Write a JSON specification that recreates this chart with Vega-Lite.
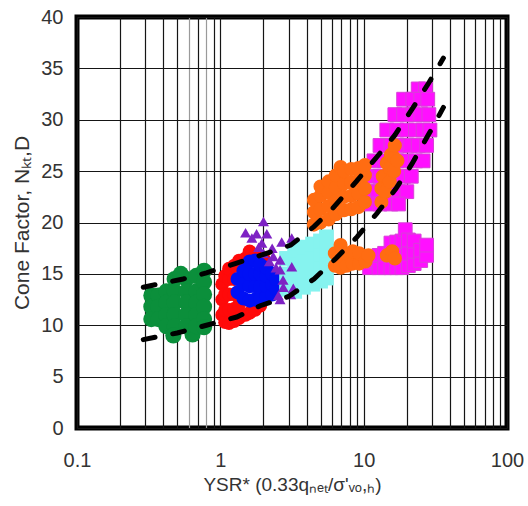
{
  "$schema": "https://vega.github.io/schema/vega-lite/v6.json",
  "width": 430,
  "height": 411,
  "autosize": {"type": "none"},
  "padding": {"left": 77, "top": 17, "right": 21, "bottom": 78},
  "background": "white",
  "config": {
    "view": {"stroke": "black", "strokeWidth": 5},
    "font": "Liberation Sans"
  },
  "datasets": {
    "pts": [
      {"g":"green","x":0.33,"y":12.9},{"g":"green","x":0.33,"y":11.8},{"g":"green","x":0.33,"y":10.6},
      {"g":"green","x":0.37,"y":12.9},{"g":"green","x":0.37,"y":11.8},{"g":"green","x":0.37,"y":10.6},
      {"g":"green","x":0.42,"y":13.3},{"g":"green","x":0.42,"y":12.2},{"g":"green","x":0.42,"y":11.0},{"g":"green","x":0.42,"y":9.9},
      {"g":"green","x":0.48,"y":14.5},{"g":"green","x":0.48,"y":13.3},{"g":"green","x":0.48,"y":12.2},{"g":"green","x":0.48,"y":11.0},{"g":"green","x":0.48,"y":9.9},{"g":"green","x":0.47,"y":9.0},
      {"g":"green","x":0.58,"y":14.5},{"g":"green","x":0.58,"y":13.3},{"g":"green","x":0.58,"y":12.2},{"g":"green","x":0.58,"y":11.0},{"g":"green","x":0.58,"y":9.9},{"g":"green","x":0.64,"y":9.1},
      {"g":"green","x":0.68,"y":14.8},{"g":"green","x":0.68,"y":13.3},{"g":"green","x":0.68,"y":12.2},{"g":"green","x":0.68,"y":11.0},{"g":"green","x":0.68,"y":9.9},
      {"g":"green","x":0.77,"y":15.3},{"g":"green","x":0.77,"y":14.2},{"g":"green","x":0.77,"y":13.0},{"g":"green","x":0.77,"y":11.8},{"g":"green","x":0.77,"y":10.6},{"g":"green","x":0.77,"y":9.8},{"g":"green","x":0.53,"y":15.0},

      {"g":"red","x":1.03,"y":11.0},{"g":"red","x":1.03,"y":12.5},{"g":"red","x":1.03,"y":14.0},
      {"g":"red","x":1.08,"y":10.3},{"g":"red","x":1.08,"y":11.5},{"g":"red","x":1.08,"y":13.0},{"g":"red","x":1.08,"y":14.8},
      {"g":"red","x":1.15,"y":10.2},{"g":"red","x":1.15,"y":11.5},{"g":"red","x":1.15,"y":13.0},{"g":"red","x":1.15,"y":14.5},{"g":"red","x":1.15,"y":15.5},
      {"g":"red","x":1.25,"y":10.4},{"g":"red","x":1.25,"y":11.6},{"g":"red","x":1.25,"y":13.0},{"g":"red","x":1.25,"y":14.5},{"g":"red","x":1.25,"y":15.8},
      {"g":"red","x":1.35,"y":10.7},{"g":"red","x":1.35,"y":12.0},{"g":"red","x":1.35,"y":16.3},
      {"g":"red","x":1.5,"y":11.0},{"g":"red","x":1.5,"y":16.5},{"g":"red","x":1.6,"y":11.2},{"g":"red","x":1.6,"y":17.2},
      {"g":"red","x":1.75,"y":11.5},{"g":"red","x":1.75,"y":16.8},{"g":"red","x":1.9,"y":11.9},{"g":"red","x":2.0,"y":16.5},

      {"g":"blue","x":1.32,"y":13.2},{"g":"blue","x":1.32,"y":14.5},
      {"g":"blue","x":1.45,"y":12.6},{"g":"blue","x":1.45,"y":14.0},{"g":"blue","x":1.45,"y":15.3},
      {"g":"blue","x":1.6,"y":12.4},{"g":"blue","x":1.6,"y":13.8},{"g":"blue","x":1.6,"y":15.0},{"g":"blue","x":1.6,"y":16.2},
      {"g":"blue","x":1.75,"y":12.5},{"g":"blue","x":1.75,"y":13.8},{"g":"blue","x":1.75,"y":15.0},{"g":"blue","x":1.75,"y":16.3},
      {"g":"blue","x":1.9,"y":12.6},{"g":"blue","x":1.9,"y":13.8},{"g":"blue","x":1.9,"y":15.0},{"g":"blue","x":1.9,"y":15.9},
      {"g":"blue","x":2.1,"y":12.8},{"g":"blue","x":2.1,"y":13.8},{"g":"blue","x":2.1,"y":14.8},{"g":"blue","x":2.1,"y":15.6},
      {"g":"blue","x":2.3,"y":13.0},{"g":"blue","x":2.3,"y":14.0},{"g":"blue","x":2.3,"y":15.0},
      {"g":"blue","x":2.45,"y":13.5},{"g":"blue","x":2.45,"y":14.5},

      {"g":"cyan","x":2.9,"y":13.5},{"g":"cyan","x":2.9,"y":15.0},{"g":"cyan","x":2.9,"y":16.5},
      {"g":"cyan","x":3.3,"y":13.3},{"g":"cyan","x":3.3,"y":14.7},{"g":"cyan","x":3.3,"y":16.1},{"g":"cyan","x":3.3,"y":17.3},
      {"g":"cyan","x":3.8,"y":13.7},{"g":"cyan","x":3.8,"y":15.0},{"g":"cyan","x":3.8,"y":16.3},{"g":"cyan","x":3.8,"y":17.6},
      {"g":"cyan","x":4.4,"y":14.0},{"g":"cyan","x":4.4,"y":15.3},{"g":"cyan","x":4.4,"y":16.6},{"g":"cyan","x":4.4,"y":17.9},
      {"g":"cyan","x":5.0,"y":14.3},{"g":"cyan","x":5.0,"y":15.6},{"g":"cyan","x":5.0,"y":16.9},{"g":"cyan","x":5.0,"y":18.2},
      {"g":"cyan","x":5.5,"y":14.6},{"g":"cyan","x":5.5,"y":16.0},{"g":"cyan","x":5.5,"y":17.3},{"g":"cyan","x":5.5,"y":18.6},

      {"g":"purple","x":2.0,"y":20.1},{"g":"purple","x":1.79,"y":18.9},{"g":"purple","x":2.11,"y":18.9},{"g":"purple","x":1.66,"y":18.5},
      {"g":"purple","x":1.95,"y":18.0},{"g":"purple","x":2.68,"y":18.1},{"g":"purple","x":3.15,"y":18.5},{"g":"purple","x":2.61,"y":16.35},
      {"g":"purple","x":3.15,"y":15.7},{"g":"purple","x":2.61,"y":15.4},{"g":"purple","x":2.74,"y":14.4},{"g":"purple","x":3.23,"y":13.6},
      {"g":"purple","x":2.54,"y":12.9},{"g":"purple","x":2.61,"y":12.5},{"g":"purple","x":2.0,"y":17.0},{"g":"purple","x":2.34,"y":16.7},
      {"g":"purple","x":1.5,"y":19.0},{"g":"purple","x":2.75,"y":13.7},{"g":"purple","x":3.1,"y":13.0},{"g":"purple","x":2.2,"y":16.2},
      {"g":"purple","x":2.45,"y":15.6},{"g":"purple","x":1.85,"y":17.6},{"g":"purple","x":2.3,"y":17.5},

      {"g":"magenta","x":24,"y":33},{"g":"magenta","x":27,"y":33},
      {"g":"magenta","x":19,"y":32},{"g":"magenta","x":22,"y":32},{"g":"magenta","x":25,"y":32},{"g":"magenta","x":28,"y":32},
      {"g":"magenta","x":16.5,"y":30.5},{"g":"magenta","x":19,"y":30.5},{"g":"magenta","x":22,"y":30.5},{"g":"magenta","x":25,"y":30.5},{"g":"magenta","x":28.5,"y":30.5},
      {"g":"magenta","x":14.5,"y":29},{"g":"magenta","x":17,"y":29},{"g":"magenta","x":20,"y":29},{"g":"magenta","x":23,"y":29},{"g":"magenta","x":26,"y":29},{"g":"magenta","x":29,"y":29},
      {"g":"magenta","x":13,"y":27.5},{"g":"magenta","x":15.5,"y":27.5},{"g":"magenta","x":18,"y":27.5},{"g":"magenta","x":21,"y":27.5},{"g":"magenta","x":24,"y":27.5},{"g":"magenta","x":27.5,"y":27.5},
      {"g":"magenta","x":11.8,"y":26},{"g":"magenta","x":14,"y":26},{"g":"magenta","x":17,"y":26},{"g":"magenta","x":20,"y":26},{"g":"magenta","x":23,"y":26},{"g":"magenta","x":26,"y":26},
      {"g":"magenta","x":11.3,"y":24.5},{"g":"magenta","x":13,"y":24.5},{"g":"magenta","x":16,"y":24.5},{"g":"magenta","x":19,"y":24.5},{"g":"magenta","x":21.5,"y":24.5},
      {"g":"magenta","x":11,"y":23},{"g":"magenta","x":12.5,"y":23},{"g":"magenta","x":15,"y":23},{"g":"magenta","x":17.5,"y":23},{"g":"magenta","x":20,"y":23},
      {"g":"magenta","x":11,"y":21.8},{"g":"magenta","x":13,"y":21.8},{"g":"magenta","x":15.5,"y":21.8},{"g":"magenta","x":17.5,"y":21.8},
      {"g":"magenta","x":11,"y":15.6},{"g":"magenta","x":11.8,"y":16.2},{"g":"magenta","x":12.8,"y":15.6},{"g":"magenta","x":12.8,"y":16.8},
      {"g":"magenta","x":14,"y":15.6},{"g":"magenta","x":14,"y":17},{"g":"magenta","x":15.5,"y":15.6},{"g":"magenta","x":15.5,"y":16.8},{"g":"magenta","x":15.5,"y":18},
      {"g":"magenta","x":17,"y":15.6},{"g":"magenta","x":17,"y":16.8},{"g":"magenta","x":17,"y":18.1},
      {"g":"magenta","x":18.5,"y":15.6},{"g":"magenta","x":18.5,"y":16.8},{"g":"magenta","x":18.5,"y":18.2},{"g":"magenta","x":19.5,"y":19.3},
      {"g":"magenta","x":20.5,"y":15.8},{"g":"magenta","x":20.5,"y":17},{"g":"magenta","x":20.5,"y":18.3},
      {"g":"magenta","x":22.5,"y":16},{"g":"magenta","x":22.5,"y":17.2},{"g":"magenta","x":22.5,"y":18.2},
      {"g":"magenta","x":25,"y":16.3},{"g":"magenta","x":25,"y":17.3},{"g":"magenta","x":27.5,"y":16.8},{"g":"magenta","x":27.5,"y":17.8},

      {"g":"orange","x":4.5,"y":19.8},{"g":"orange","x":4.5,"y":21.0},{"g":"orange","x":4.5,"y":22.2},
      {"g":"orange","x":5.0,"y":20.0},{"g":"orange","x":5.0,"y":21.3},{"g":"orange","x":5.0,"y":22.6},{"g":"orange","x":5.0,"y":23.5},
      {"g":"orange","x":5.7,"y":20.3},{"g":"orange","x":5.7,"y":21.6},{"g":"orange","x":5.7,"y":22.9},{"g":"orange","x":5.7,"y":24.0},
      {"g":"orange","x":6.4,"y":20.8},{"g":"orange","x":6.4,"y":22.1},{"g":"orange","x":6.4,"y":23.4},{"g":"orange","x":6.4,"y":24.6},{"g":"orange","x":6.9,"y":25.4},
      {"g":"orange","x":7.3,"y":21.2},{"g":"orange","x":7.3,"y":22.5},{"g":"orange","x":7.3,"y":23.8},{"g":"orange","x":7.3,"y":25.0},
      {"g":"orange","x":8.2,"y":21.3},{"g":"orange","x":8.2,"y":22.6},{"g":"orange","x":8.2,"y":23.9},{"g":"orange","x":8.2,"y":25.2},
      {"g":"orange","x":9.2,"y":21.5},{"g":"orange","x":9.2,"y":22.8},{"g":"orange","x":9.2,"y":24.1},{"g":"orange","x":9.2,"y":25.3},
      {"g":"orange","x":10.2,"y":22.0},{"g":"orange","x":10.2,"y":23.3},{"g":"orange","x":10.2,"y":24.6},{"g":"orange","x":10.2,"y":25.6},
      {"g":"orange","x":13.3,"y":22.0},{"g":"orange","x":13.3,"y":23.3},{"g":"orange","x":13.6,"y":24.5},{"g":"orange","x":14.2,"y":23.0},
      {"g":"orange","x":14.2,"y":24.5},{"g":"orange","x":14.5,"y":25.8},{"g":"orange","x":15.2,"y":24.0},{"g":"orange","x":15.2,"y":25.3},
      {"g":"orange","x":15.5,"y":26.6},{"g":"orange","x":16.3,"y":25.0},{"g":"orange","x":16.3,"y":26.3},{"g":"orange","x":16.5,"y":27.5},{"g":"orange","x":17.2,"y":26.0},
      {"g":"orange","x":6.3,"y":15.8},{"g":"orange","x":6.3,"y":17.0},{"g":"orange","x":6.9,"y":15.6},{"g":"orange","x":6.9,"y":16.8},{"g":"orange","x":6.9,"y":17.8},
      {"g":"orange","x":7.6,"y":15.8},{"g":"orange","x":7.6,"y":17.0},{"g":"orange","x":8.4,"y":16.0},{"g":"orange","x":8.4,"y":17.2},
      {"g":"orange","x":9.3,"y":16.0},{"g":"orange","x":9.3,"y":17.0},{"g":"orange","x":10.3,"y":16.2},{"g":"orange","x":10.8,"y":16.8},
      {"g":"orange","x":14.5,"y":16.8},{"g":"orange","x":15.8,"y":17.2},{"g":"orange","x":16.5,"y":16.5}
    ],
    "lines": [
      {"line":"upper","x":0.29,"y":13.7},{"line":"upper","x":0.55,"y":14.5},{"line":"upper","x":0.8,"y":15.1},{"line":"upper","x":1.27,"y":16.0},
      {"line":"upper","x":2.0,"y":16.9},{"line":"upper","x":3.1,"y":17.8},{"line":"upper","x":4.5,"y":19.6},{"line":"upper","x":6.1,"y":21.4},
      {"line":"upper","x":8.9,"y":24.0},{"line":"upper","x":12.4,"y":26.4},{"line":"upper","x":16.5,"y":28.5},{"line":"upper","x":21.7,"y":31.0},
      {"line":"upper","x":28.5,"y":33.6},{"line":"upper","x":36,"y":36.0},
      {"line":"lower","x":0.29,"y":8.6},{"line":"lower","x":0.5,"y":9.25},{"line":"lower","x":0.8,"y":10.0},{"line":"lower","x":1.3,"y":10.8},
      {"line":"lower","x":1.9,"y":11.9},{"line":"lower","x":3.0,"y":12.8},{"line":"lower","x":4.5,"y":14.5},{"line":"lower","x":6.4,"y":16.5},
      {"line":"lower","x":9.0,"y":18.6},{"line":"lower","x":12.4,"y":20.9},{"line":"lower","x":16.8,"y":23.3},{"line":"lower","x":21.7,"y":25.7},
      {"line":"lower","x":29,"y":28.8},{"line":"lower","x":36,"y":31.2}
    ]
  },
  "encoding": {
    "x": {
      "field": "x", "type": "quantitative",
      "scale": {"type": "log", "domain": [0.1, 100], "nice": false},
      "axis": {
        "values": [0.1,0.2,0.3,0.4,0.5,0.6,0.7,0.8,0.9,1,2,3,4,5,6,7,8,9,10,20,30,40,50,60,70,80,90,100],
        "grid": true,
        "gridColor": {"condition": {"test": "datum.value == 0.6 || datum.value == 0.8", "value": "#9a9a9a"}, "value": "#151515"},
        "gridWidth": 1.2,
        "ticks": false, "tickSize": 0, "domain": false,
        "labelExpr": "datum.value == 0.1 ? '0.1' : datum.value == 1 ? '1' : datum.value == 10 ? '10' : datum.value == 100 ? '100' : ''",
        "labelOverlap": false, "labelFlush": false,
        "labelFontSize": 20, "labelColor": "#333", "labelPadding": 22,
        "title": "YSR* (0.33qₙₑₜ/σ'ᵥₒ,ₕ)",
        "titleFontSize": 19, "titleFontWeight": "normal", "titleColor": "#333", "titlePadding": 5
      }
    },
    "y": {
      "field": "y", "type": "quantitative",
      "scale": {"domain": [0, 40], "nice": false},
      "axis": {
        "values": [0,5,10,15,20,25,30,35,40],
        "grid": true, "gridColor": "#151515", "gridWidth": 1.2,
        "ticks": false, "tickSize": 0, "domain": false, "labelFlush": false,
        "labelFontSize": 20, "labelColor": "#333", "labelPadding": 14,
        "title": "Cone Factor, Nₖₜ,D",
        "titleFontSize": 21, "titleFontWeight": "normal", "titleColor": "#333", "titlePadding": 8
      }
    }
  },
  "layer": [
    {"data": {"name": "pts"}, "transform": [{"filter": "datum.g == 'green'"}], "mark": {"type": "point", "shape": "circle", "filled": true, "opacity": 1, "color": "#0b8f3b", "size": 260}},
    {"data": {"name": "pts"}, "transform": [{"filter": "datum.g == 'red'"}], "mark": {"type": "point", "shape": "circle", "filled": true, "opacity": 1, "color": "#ff0a0a", "size": 190}},
    {"data": {"name": "pts"}, "transform": [{"filter": "datum.g == 'blue'"}], "mark": {"type": "point", "shape": "circle", "filled": true, "opacity": 1, "color": "#0010f5", "size": 200}},
    {"data": {"name": "pts"}, "transform": [{"filter": "datum.g == 'cyan'"}], "mark": {"type": "point", "shape": "square", "filled": true, "opacity": 1, "color": "#86f3ef", "size": 220}},
    {"data": {"name": "pts"}, "transform": [{"filter": "datum.g == 'purple'"}], "mark": {"type": "point", "shape": "triangle-up", "filled": true, "opacity": 1, "color": "#7e22c4", "size": 120}},
    {"data": {"name": "pts"}, "transform": [{"filter": "datum.g == 'magenta'"}], "mark": {"type": "point", "shape": "square", "filled": true, "opacity": 1, "fill": "#ff10ff", "stroke": "#d940d9", "strokeWidth": 1, "size": 190}},
    {"data": {"name": "pts"}, "transform": [{"filter": "datum.g == 'orange'"}], "mark": {"type": "point", "shape": "circle", "filled": true, "opacity": 1, "color": "#ff6c12", "size": 200}},
    {"data": {"name": "lines"}, "mark": {"type": "line", "color": "black", "strokeWidth": 5, "strokeDash": [12, 18], "strokeCap": "round"}, "encoding": {"detail": {"field": "line"}}}
  ]
}
